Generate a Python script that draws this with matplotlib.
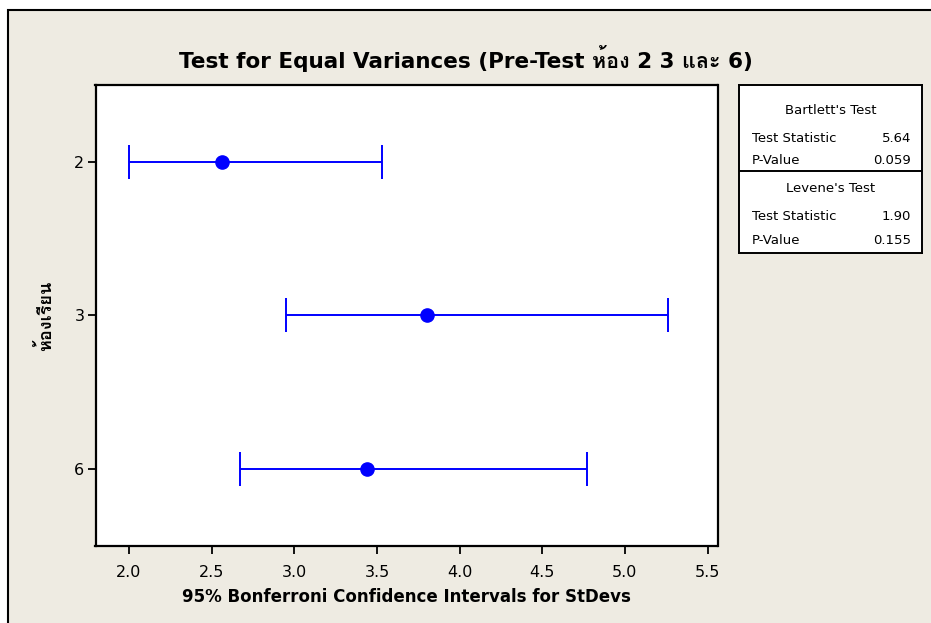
import matplotlib
matplotlib.use("Agg")
import matplotlib.pyplot as plt
from matplotlib import font_manager
from matplotlib.ft2font import FT2Font
from matplotlib.patches import Rectangle

# data
groups = ["2", "3", "6"]
sd_center = [2.56, 3.80, 3.44]
ci_lower = [2.00, 2.95, 2.67]
ci_upper = [3.53, 5.26, 4.77]

bartlett_stat = "5.64"
bartlett_p = "0.059"
levene_stat = "1.90"
levene_p = "0.155"


def find_thai_family():
    # look for any installed font that has Thai glyphs
    for f in font_manager.fontManager.ttflist:
        try:
            ft = FT2Font(f.fname)
            if 0x0E2B in ft.get_charmap():
                return f.name
        except Exception:
            pass
    return None


thai = find_thai_family()
fams = ["DejaVu Sans"] + ([thai] if thai else [])
plt.rcParams["font.family"] = fams

bg = "#EEEBE2"
blue = "#0000FF"

fig = plt.figure(figsize=(9.31, 6.23), dpi=100, facecolor="white")
# beige panel with border on left and top
fig.patches.append(Rectangle((8 / 931, -0.05), 1.0, 1 - 10 / 623 + 0.05,
                             transform=fig.transFigure, facecolor=bg,
                             edgecolor="black", linewidth=1.5, zorder=-10))

ax = fig.add_axes([95.5 / 931, 1 - 545.7 / 623, 622 / 931, 460.7 / 623])
ax.set_facecolor("white")

ypos = list(range(len(groups)))
xerr = [[c - lo for c, lo in zip(sd_center, ci_lower)],
        [hi - c for c, hi in zip(sd_center, ci_upper)]]
ax.errorbar(sd_center, ypos, xerr=xerr, fmt="o", color=blue, ecolor=blue,
            markersize=9.5, elinewidth=1.4, capsize=12, capthick=1.4)

ax.set_xlim(1.797, 5.56)
ax.set_ylim(2.5, -0.5)
ax.set_xticks([2.0, 2.5, 3.0, 3.5, 4.0, 4.5, 5.0, 5.5])
ax.set_xticklabels(["2.0", "2.5", "3.0", "3.5", "4.0", "4.5", "5.0", "5.5"])
ax.set_yticks(ypos)
ax.set_yticklabels(groups)
ax.tick_params(direction="out", length=6, width=1.3, labelsize=11.5)
ax.tick_params(axis="x", pad=8)
ax.tick_params(axis="y", pad=2)
for s in ax.spines.values():
    s.set_linewidth(1.6)

ax.set_xlabel("95% Bonferroni Confidence Intervals for StDevs",
              fontsize=12, fontweight="bold", labelpad=6)
ax.set_ylabel("ห้องเรียน", fontsize=13, fontweight="bold", labelpad=14)

fig.text(0.5, 1 - 58 / 623, "Test for Equal Variances (Pre-Test ห้อง 2 3 และ 6)",
         ha="center", va="center", fontsize=15.5, fontweight="bold")

# box with test results
lg = fig.add_axes([739 / 931, 1 - 253 / 623, 183 / 931, 168 / 623])
lg.set_facecolor("white")
lg.set_xticks([])
lg.set_yticks([])
lg.set_xlim(0, 183)
lg.set_ylim(168, 0)
for s in lg.spines.values():
    s.set_linewidth(1.4)
lg.axhline(86, color="black", linewidth=1.4)

fs = 9.5
lg.text(91.5, 25, "Bartlett's Test", ha="center", va="center", fontsize=fs)
lg.text(13, 54, "Test Statistic", ha="left", va="center", fontsize=fs)
lg.text(172, 54, bartlett_stat, ha="right", va="center", fontsize=fs)
lg.text(13, 76, "P-Value", ha="left", va="center", fontsize=fs)
lg.text(172, 76, bartlett_p, ha="right", va="center", fontsize=fs)
lg.text(91.5, 103, "Levene's Test", ha="center", va="center", fontsize=fs)
lg.text(13, 132, "Test Statistic", ha="left", va="center", fontsize=fs)
lg.text(172, 132, levene_stat, ha="right", va="center", fontsize=fs)
lg.text(13, 155, "P-Value", ha="left", va="center", fontsize=fs)
lg.text(172, 155, levene_p, ha="right", va="center", fontsize=fs)

fig.savefig("out.png", dpi=100, facecolor=fig.get_facecolor())
